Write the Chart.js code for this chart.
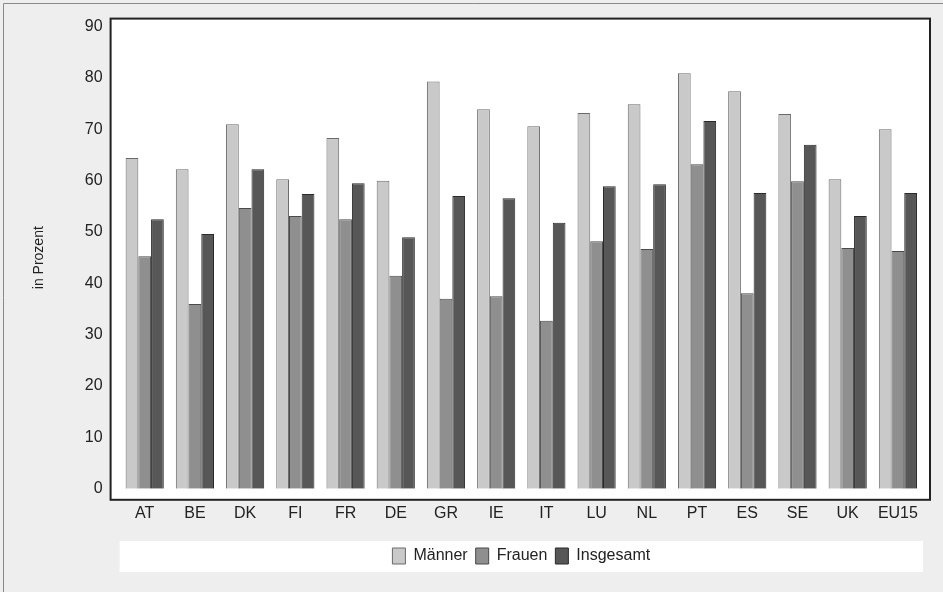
<!DOCTYPE html>
<html>
<head>
<meta charset="utf-8">
<script src="https://cdn.jsdelivr.net/npm/chart.js@4.4.0/dist/chart.umd.min.js"></script>
<style>
  html, body { margin: 0; padding: 0; background: #eeeeee; }
  #c { position: absolute; left: 0; top: 0; }
</style>
</head>
<body>
<canvas id="c" width="943" height="592"></canvas>
<script>
const categories = ["AT","BE","DK","FI","FR","DE","GR","IE","IT","LU","NL","PT","ES","SE","UK","EU15"];
const maenner    = [64.4, 62.2, 71.0, 60.3, 68.3, 60.0, 79.3, 73.9, 70.6, 73.2, 74.9, 80.9, 77.4, 73.0, 60.3, 70.0];
const frauen     = [45.3, 36.0, 54.7, 53.1, 52.5, 41.5, 37.0, 37.5, 32.7, 48.2, 46.7, 63.2, 38.1, 59.9, 46.9, 46.3];
const insgesamt  = [52.5, 49.6, 62.2, 57.4, 59.5, 49.0, 57.0, 56.6, 51.8, 58.9, 59.3, 71.6, 57.6, 67.0, 53.1, 57.6];
const yTicks     = [0, 10, 20, 30, 40, 50, 60, 70, 80, 90];
const seriesNames = ["Männer", "Frauen", "Insgesamt"];

const bgPlugin = {
  id: 'bgPlugin',
  afterLayout(chart) {
    const a = chart.chartArea, lg = chart.legend;
    const shift = (a.left + a.right) / 2 - (lg.left + lg.right) / 2;
    lg.left += shift; lg.right += shift;
    const h = lg.bottom - lg.top;
    lg.top = 540; lg.bottom = 540 + h;
  },
  beforeDraw(chart) {
    const ctx = chart.ctx, a = chart.chartArea;
    ctx.save();
    ctx.fillStyle = '#eeeeee';
    ctx.fillRect(0, 0, chart.width, chart.height);
    ctx.strokeStyle = '#8a8a8a';
    ctx.lineWidth = 1;
    ctx.beginPath();
    ctx.moveTo(3.5, chart.height); ctx.lineTo(3.5, 3.5); ctx.lineTo(chart.width, 3.5);
    ctx.stroke();
    ctx.fillStyle = '#ffffff';
    ctx.fillRect(a.left - 9, a.top - 8, a.right - a.left + 16, a.bottom - a.top + 19);
    ctx.strokeStyle = '#222222';
    ctx.lineWidth = 2;
    ctx.strokeRect(a.left - 9, a.top - 8, a.right - a.left + 16, a.bottom - a.top + 19);
    ctx.fillStyle = '#ffffff';
    ctx.fillRect(a.left, 541, a.right - a.left, 31);
    ctx.restore();
  }
};

new Chart(document.getElementById('c'), {
  type: 'bar',
  data: {
    labels: categories,
    datasets: [
      { label: seriesNames[0], data: maenner,   backgroundColor: '#c9c9c9', borderColor: '#6a6a6a', borderWidth: 1 },
      { label: seriesNames[1], data: frauen,    backgroundColor: '#8f8f8f', borderColor: '#4a4a4a', borderWidth: 1 },
      { label: seriesNames[2], data: insgesamt, backgroundColor: '#575757', borderColor: '#2a2a2a', borderWidth: 1 }
    ]
  },
  options: {
    responsive: false,
    animation: false,
    devicePixelRatio: 1,
    layout: { padding: { left: 27, right: 20, top: 25, bottom: 20 } },
    datasets: { bar: { categoryPercentage: 0.76, barPercentage: 1.0 } },
    plugins: {
      legend: {
        position: 'bottom',
        labels: {
          font: { family: 'Liberation Sans, Arial, sans-serif', size: 16 },
          color: '#222222',
          boxWidth: 13,
          boxHeight: 16,
          padding: 8
        }
      },
      tooltip: { enabled: false }
    },
    scales: {
      x: {
        grid: { display: false, drawTicks: false },
        border: { display: false },
        ticks: { font: { family: 'Liberation Sans, Arial, sans-serif', size: 16 }, color: '#222222', padding: 15 }
      },
      y: {
        min: 0, max: 90,
        afterBuildTicks(scale) { scale.ticks = yTicks.map(v => ({ value: v })); },
        grid: { display: false, drawTicks: false },
        border: { display: false },
        ticks: { font: { family: 'Liberation Sans, Arial, sans-serif', size: 16 }, color: '#222222', padding: 17 },
        title: { display: true, text: 'in Prozent', font: { family: 'Liberation Sans, Arial, sans-serif', size: 14 }, color: '#222222', padding: { bottom: 20 } }
      }
    }
  },
  plugins: [bgPlugin]
});
</script>
</body>
</html>
